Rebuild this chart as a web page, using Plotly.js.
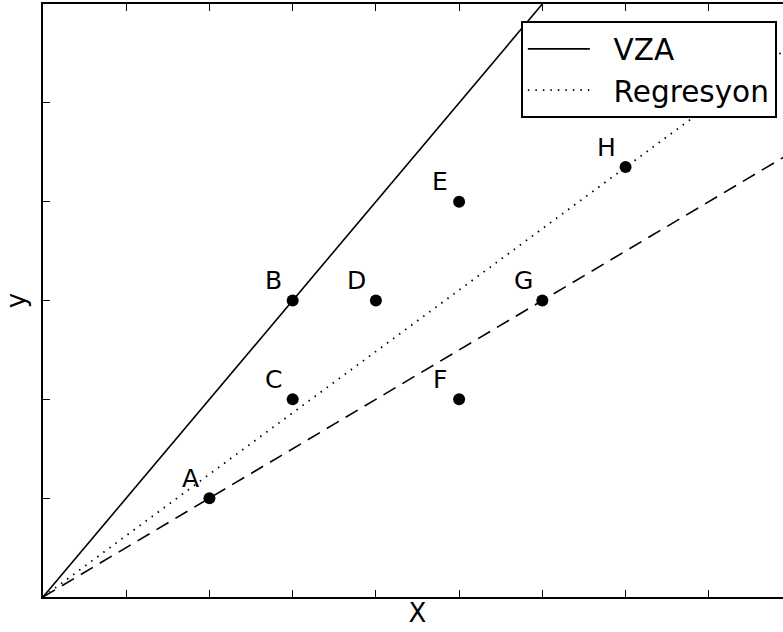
<!DOCTYPE html>
<html>
<head>
<meta charset="utf-8">
<script src="https://cdn.plot.ly/plotly-3.0.1.min.js"></script>
<style>
html, body { margin:0; padding:0; overflow:hidden; background:#fff; }
#chart { width:800px; height:632px; }
</style>
</head>
<body>
<div id="chart"></div>
<script>
// Data
const pointLabels = ['A','B','C','D','E','F','G','H'];
const pointX = [2, 3, 3, 4, 5, 5, 6, 7];
const pointY = [1, 3, 2, 3, 4, 2, 3, 4.35];

const seriesNames = ['VZA', 'Regresyon'];
const vzaX = [0, 6];
const vzaY = [0, 6];
const regX = [0, 9];
const regY = [0, 5.59];
const dashX = [0, 9];
const dashY = [0, 4.5];

const FONT = 'DejaVu Sans, sans-serif';
const PAD = '\u00a0\u00a0';

const traces = [
  { x: vzaX, y: vzaY, mode: 'lines', name: PAD + seriesNames[0],
    line: { color: '#000', width: 1.6 } },
  { x: regX, y: regY, mode: 'lines', name: PAD + seriesNames[1],
    line: { color: '#000', width: 1.8, dash: '1.5px,6px' } },
  { x: dashX, y: dashY, mode: 'lines', showlegend: false,
    line: { color: '#000', width: 1.6, dash: '14px,8px' } },
  { x: pointX, y: pointY, mode: 'markers', showlegend: false,
    marker: { color: '#000', size: 12 }, cliponaxis: false }
];

const annotations = pointLabels.map((t, i) => ({
  x: pointX[i], y: pointY[i], text: t, showarrow: false,
  xshift: -19, yshift: 20, font: { family: FONT, size: 25, color: '#000' }
}));

const axisBase = {
  showline: true, linecolor: '#000', linewidth: 2, mirror: 'ticks',
  ticks: 'inside', ticklen: 7, tickwidth: 1, tickcolor: '#000',
  showticklabels: false, showgrid: false, zeroline: false, dtick: 1
};

const layout = {
  width: 800, height: 632,
  margin: { l: 43, r: 8, t: 4, b: 35 },
  paper_bgcolor: '#fff', plot_bgcolor: '#fff',
  font: { family: FONT, color: '#000' },
  xaxis: Object.assign({}, axisBase, { range: [0, 9],
    title: { text: 'X', font: { family: FONT, size: 26 }, standoff: 6 } }),
  yaxis: Object.assign({}, axisBase, { range: [0, 6],
    title: { text: 'y', font: { family: FONT, size: 26 }, standoff: 8 } }),
  legend: {
    x: 0.638, y: 0.971, xanchor: 'left', yanchor: 'top',
    bgcolor: '#fff', bordercolor: '#000', borderwidth: 2,
    font: { family: FONT, size: 29.5, color: '#000' },
    itemwidth: 62
  },
  annotations: annotations
};

Plotly.newPlot('chart', traces, layout, { displayModeBar: false, staticPlot: true });
</script>
</body>
</html>
